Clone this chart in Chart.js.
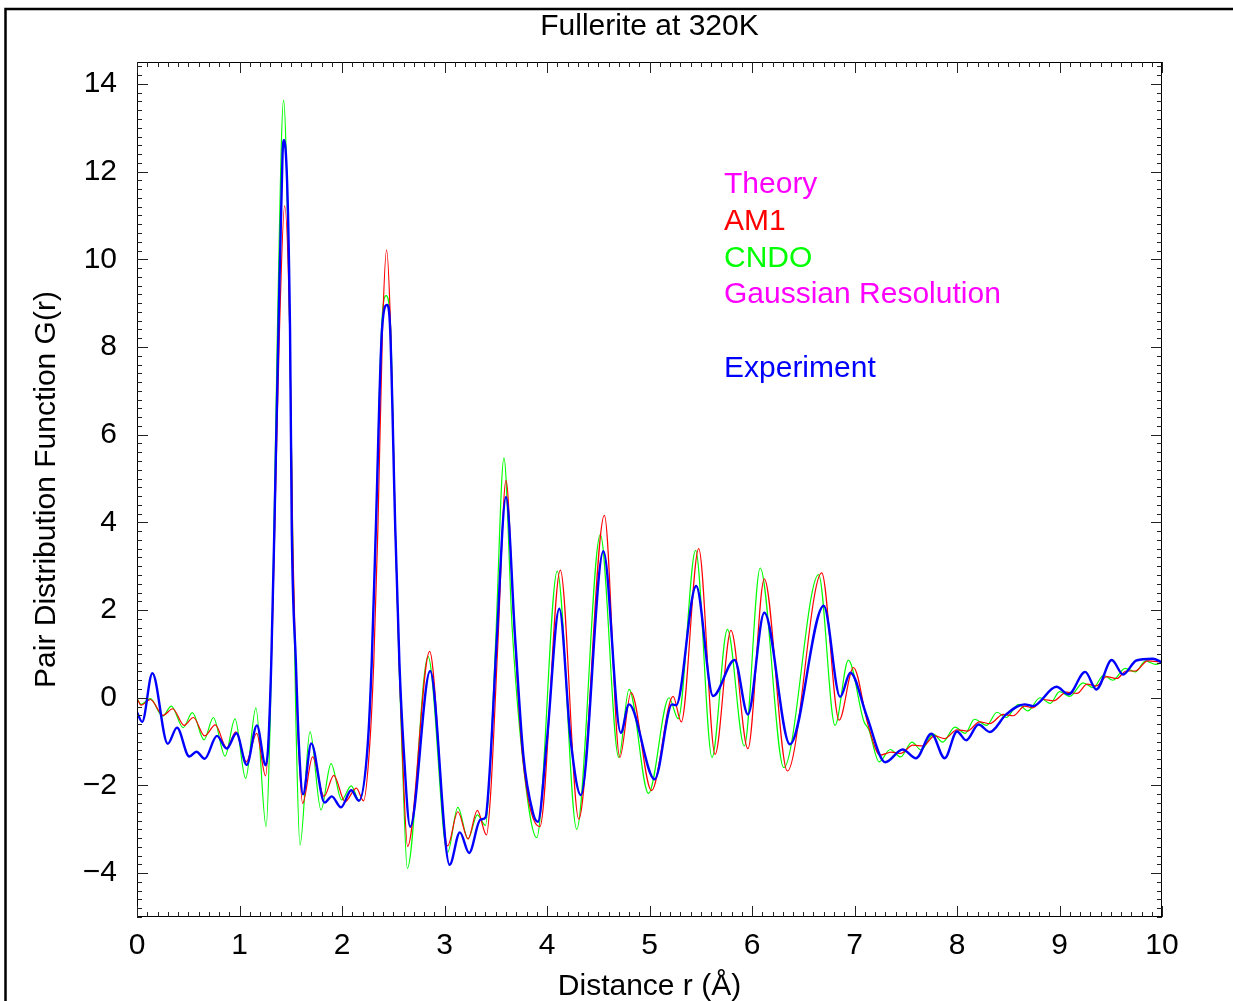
<!DOCTYPE html>
<html>
<head>
<meta charset="utf-8">
<title>Fullerite at 320K</title>
<script src="https://cdn.jsdelivr.net/npm/chart.js@4.4.1/dist/chart.umd.min.js"></script>
<style>
  html, body { margin: 0; padding: 0; background: #fff; }
  #wrap { width: 1233px; height: 1001px; }
</style>
</head>
<body>
<div id="wrap"><canvas id="pdfChart"></canvas></div>
<script>
// --- DATA ---
const xTicks = [0, 1, 2, 3, 4, 5, 6, 7, 8, 9, 10];
const yTicks = [-4, -2, 0, 2, 4, 6, 8, 10, 12, 14];

// Experiment (blue)
const expR = [0.00, 0.05, 0.15, 0.30, 0.39, 0.51, 0.58, 0.66, 0.78, 0.875, 0.97, 1.07, 1.17, 1.255,
  1.28, 1.31, 1.34, 1.38, 1.42, 1.435, 1.493, 1.51, 1.55, 1.58, 1.62, 1.70, 1.83, 1.90, 1.99, 2.09, 2.165,
  2.25, 2.29, 2.33, 2.39, 2.44, 2.47, 2.52, 2.56, 2.60, 2.665, 2.86, 3.05, 3.15, 3.24, 3.35, 3.40, 3.44,
  3.51, 3.60, 3.69, 3.77, 3.86, 3.91, 4.00, 4.12, 4.23, 4.33, 4.55, 4.72, 4.80, 5.05, 5.22, 5.26, 5.455,
  5.62, 5.83, 5.96, 6.12, 6.37, 6.70, 6.86, 6.96, 7.12, 7.30, 7.47, 7.60, 7.75, 7.88, 8.00, 8.09, 8.21,
  8.32, 8.48, 8.66, 8.74, 8.97, 9.09, 9.25, 9.36, 9.51, 9.62, 9.75, 9.91, 10.0];
const expG = [-0.33, -0.55, 0.56, -1.05, -0.68, -1.34, -1.23, -1.39, -0.87, -1.16, -0.81, -1.53, -0.63, -1.54,
  -1.10, 0.81, 3.84, 8.39, 12.4, 12.72, 8.39, 3.84, 0.81, -1.10, -2.20, -1.04, -2.39, -2.25, -2.50, -2.11, -2.35,
  -1.10, 0.81, 3.84, 8.39, 8.96, 8.39, 3.84, 0.81, -1.10, -2.94, 0.61, -3.81, -3.07, -3.54, -2.78, -2.73, -1.71,
  1.33, 4.58, 1.33, -1.33, -2.60, -2.83, -0.95, 2.03, -0.95, -2.22, 3.34, -0.80, -0.15, -1.86, -0.15, -0.17, 2.55,
  0.04, 0.86, -0.38, 1.94, -1.06, 2.10, 0.02, 0.57, -0.42, -1.47, -1.18, -1.38, -0.82, -1.38, -0.77, -0.97, -0.61,
  -0.78, -0.38, -0.15, -0.19, 0.25, 0.08, 0.59, 0.19, 0.86, 0.53, 0.85, 0.89, 0.81];

// Theory AM1 (red)
const am1R = [0.00, 0.04, 0.13, 0.256, 0.348, 0.46, 0.55, 0.66, 0.764, 0.875, 0.965, 1.066, 1.167, 1.255,
  1.29, 1.32, 1.35, 1.39, 1.44, 1.49, 1.52, 1.55, 1.58, 1.616, 1.713, 1.825, 1.92, 2.03, 2.14, 2.21,
  2.27, 2.31, 2.35, 2.395, 2.435, 2.475, 2.52, 2.56, 2.59, 2.64, 2.855, 3.03, 3.13, 3.23, 3.32, 3.41, 3.45,
  3.52, 3.60, 3.68, 3.76, 3.93, 4.13, 4.31, 4.56, 4.71, 4.82, 5.02, 5.23, 5.31, 5.48, 5.64, 5.795, 5.96,
  6.12, 6.345, 6.68, 6.85, 6.99, 7.13, 7.25, 7.36, 7.45, 7.57, 7.67, 7.78, 7.88, 8.00, 8.10, 8.22, 8.32,
  8.45, 8.55, 8.66, 8.74, 8.84, 8.94, 9.07, 9.17, 9.27, 9.36, 9.46, 9.56, 9.65, 9.74, 9.86, 10.0];
const am1G = [-0.02, -0.17, -0.04, -0.40, -0.25, -0.63, -0.45, -0.87, -0.62, -1.14, -0.78, -1.46, -0.81, -1.78,
  -0.60, 1.50, 4.50, 8.39, 11.22, 8.39, 3.50, 0.60, -1.30, -2.41, -1.35, -2.25, -1.77, -2.37, -2.06, -2.35,
  -1.10, 0.81, 3.84, 8.39, 10.21, 8.39, 3.84, 0.60, -1.30, -3.39, 1.06, -3.38, -2.60, -3.22, -2.57, -3.13, -2.20,
  1.20, 4.96, 1.60, -1.30, -2.94, 2.91, -2.77, 4.16, -1.36, 0.12, -2.12, 0.03, -0.55, 3.40, -1.29, 1.54, -1.16,
  2.71, -1.67, 2.85, -0.51, 0.69, -0.60, -1.31, -1.24, -1.27, -1.08, -1.10, -0.87, -0.93, -0.73, -0.76, -0.55, -0.59,
  -0.38, -0.41, -0.19, -0.23, -0.04, -0.07, 0.13, 0.10, 0.31, 0.27, 0.48, 0.44, 0.61, 0.61, 0.84, 0.81];

// Theory CNDO (green)
const cndoR = [0.00, 0.04, 0.13, 0.25, 0.335, 0.45, 0.54, 0.654, 0.745, 0.859, 0.956, 1.06, 1.16, 1.26,
  1.30, 1.33, 1.37, 1.43, 1.49, 1.52, 1.55, 1.59, 1.688, 1.795, 1.893, 1.996, 2.09, 2.17,
  2.25, 2.29, 2.33, 2.385, 2.43, 2.475, 2.52, 2.56, 2.59, 2.637, 2.84, 3.03, 3.13, 3.23, 3.32, 3.40, 3.44,
  3.50, 3.58, 3.66, 3.76, 3.90, 4.10, 4.29, 4.52, 4.70, 4.80, 4.99, 5.19, 5.28, 5.45, 5.61, 5.76, 5.925,
  6.08, 6.31, 6.65, 6.81, 6.94, 7.09, 7.14, 7.24, 7.35, 7.45, 7.56, 7.65, 7.77, 7.86, 7.98, 8.08, 8.17, 8.29,
  8.39, 8.48, 8.60, 8.69, 8.81, 8.91, 9.00, 9.10, 9.23, 9.33, 9.43, 9.52, 9.64, 9.74, 9.84, 9.94, 10.0];
const cndoG = [-0.02, -0.15, -0.02, -0.42, -0.19, -0.68, -0.34, -0.96, -0.45, -1.33, -0.48, -1.84, -0.23, -2.94,
  -0.50, 3.00, 8.39, 13.63, 8.39, 3.50, -0.50, -3.36, -0.77, -2.56, -1.50, -2.33, -2.01, -2.35,
  -1.10, 0.81, 3.84, 8.39, 9.17, 8.39, 3.84, 0.50, -1.50, -3.89, 0.94, -3.53, -2.50, -3.22, -2.67, -2.91, -1.80,
  1.33, 5.47, 1.60, -1.33, -3.19, 2.89, -3.00, 3.72, -1.36, 0.19, -2.18, 0.00, -0.48, 3.36, -1.36, 1.56, -1.10,
  2.96, -1.59, 2.81, -0.63, 0.86, -0.53, -0.73, -1.46, -1.18, -1.35, -1.01, -1.19, -0.83, -1.01, -0.67, -0.81, -0.49, -0.63,
  -0.33, -0.45, -0.15, -0.30, 0.00, -0.13, 0.14, 0.03, 0.34, 0.23, 0.51, 0.40, 0.67, 0.59, 0.84, 0.76, 0.81];

const legendText = ["Theory", "AM1", "CNDO", "Gaussian Resolution", "", "Experiment"];
const legendColor = ["#ff00ff", "#ff0000", "#00ff00", "#ff00ff", "#000", "#0000ff"];

const FONT = "'Liberation Sans', Arial, Helvetica, sans-serif";

function pares(rs, gs) {
  return rs.map((r, i) => ({ x: r, y: gs[i] }));
}

function menos(v) {
  return v < 0 ? "\u2212" + Math.abs(v) : String(v);
}

// --- MOLDURA, TICKS, TITULO E LEGENDA ---
const molduraPlugin = {
  id: "moldura",
  afterDraw(chart) {
    const { ctx, chartArea: a, scales } = chart;
    const sx = scales.x, sy = scales.y;
    ctx.save();

    // moldura externa
    ctx.strokeStyle = "#000";
    ctx.lineWidth = 2.5;
    ctx.beginPath();
    ctx.moveTo(5.5, 1001);
    ctx.lineTo(5.5, 9);
    ctx.lineTo(1233, 9);
    ctx.stroke();

    // caixa do grafico
    ctx.lineWidth = 1;
    ctx.strokeRect(a.left + 0.5, a.top + 0.5, a.right - a.left - 1, a.bottom - a.top - 1);

    // ticks para dentro, nos quatro lados
    ctx.strokeStyle = "#222";
    ctx.beginPath();
    for (let i = 0; i <= 100; i++) {
      const px = Math.round(sx.getPixelForValue(i / 10)) + 0.5;
      const len = i % 10 === 0 ? 11 : 5;
      ctx.moveTo(px, a.bottom); ctx.lineTo(px, a.bottom - len);
      ctx.moveTo(px, a.top); ctx.lineTo(px, a.top + len);
    }
    for (let j = 0; j <= 97; j++) {
      const v = -5 + j * 0.2;
      const py = Math.round(sy.getPixelForValue(v)) + 0.5;
      const major = Math.abs(v / 2 - Math.round(v / 2)) < 1e-6;
      const len = major ? 11 : 5;
      ctx.moveTo(a.left, py); ctx.lineTo(a.left + len, py);
      ctx.moveTo(a.right, py); ctx.lineTo(a.right - len, py);
    }
    ctx.stroke();

    // titulo
    ctx.fillStyle = "#000";
    ctx.font = "30px " + FONT;
    ctx.textAlign = "center";
    ctx.textBaseline = "middle";
    ctx.fillText("Fullerite at 320K", (a.left + a.right) / 2, 27);

    // legenda em texto
    ctx.font = "30px " + FONT;
    ctx.textAlign = "left";
    legendText.forEach((t, k) => {
      ctx.fillStyle = legendColor[k];
      ctx.fillText(t, a.left + 587, 185 + k * 36.7);
    });

    ctx.restore();
  }
};

const ctxGrafico = document.getElementById("pdfChart");

new Chart(ctxGrafico, {
  type: "line",
  data: {
    datasets: [
      {
        label: "Experiment",
        data: pares(expR, expG),
        borderColor: "#0000ff",
        borderWidth: 2.4,
        pointRadius: 0,
        cubicInterpolationMode: "monotone",
      },
      {
        label: "AM1",
        data: pares(am1R, am1G),
        borderColor: "#ff0000",
        borderWidth: 1.2,
        pointRadius: 0,
        cubicInterpolationMode: "monotone",
      },
      {
        label: "CNDO",
        data: pares(cndoR, cndoG),
        borderColor: "#00ff00",
        borderWidth: 1.2,
        pointRadius: 0,
        cubicInterpolationMode: "monotone",
      },
    ],
  },
  options: {
    responsive: true,
    maintainAspectRatio: false,
    animation: false,
    devicePixelRatio: 1,
    layout: { padding: { top: 62, right: 71, left: 0, bottom: 0 } },
    plugins: {
      legend: { display: false },
      tooltip: { enabled: false },
      title: { display: false },
    },
    scales: {
      x: {
        type: "linear",
        min: 0,
        max: 10,
        afterFit: (s) => { s.height = 84; },
        afterBuildTicks: (s) => { s.ticks = xTicks.map((v) => ({ value: v })); },
        grid: { display: false, drawTicks: false },
        border: { display: false },
        ticks: { color: "#000", font: { family: FONT, size: 30 }, padding: 11, maxRotation: 0 },
        title: {
          display: true,
          text: "Distance r (\u00c5)",
          color: "#000",
          font: { family: FONT, size: 30 },
          padding: { top: 0, bottom: -4 },
        },
      },
      y: {
        type: "linear",
        min: -5,
        max: 14.5,
        afterFit: (s) => { s.width = 137; },
        afterBuildTicks: (s) => { s.ticks = yTicks.map((v) => ({ value: v })); },
        grid: { display: false, drawTicks: false },
        border: { display: false },
        ticks: { color: "#000", font: { family: FONT, size: 30 }, padding: 20, callback: (v) => menos(v) },
        title: {
          display: true,
          text: "Pair Distribution Function G(r)",
          color: "#000",
          font: { family: FONT, size: 30 },
          padding: { top: 29, bottom: 0 },
        },
      },
    },
  },
  plugins: [molduraPlugin],
});
</script>
</body>
</html>
